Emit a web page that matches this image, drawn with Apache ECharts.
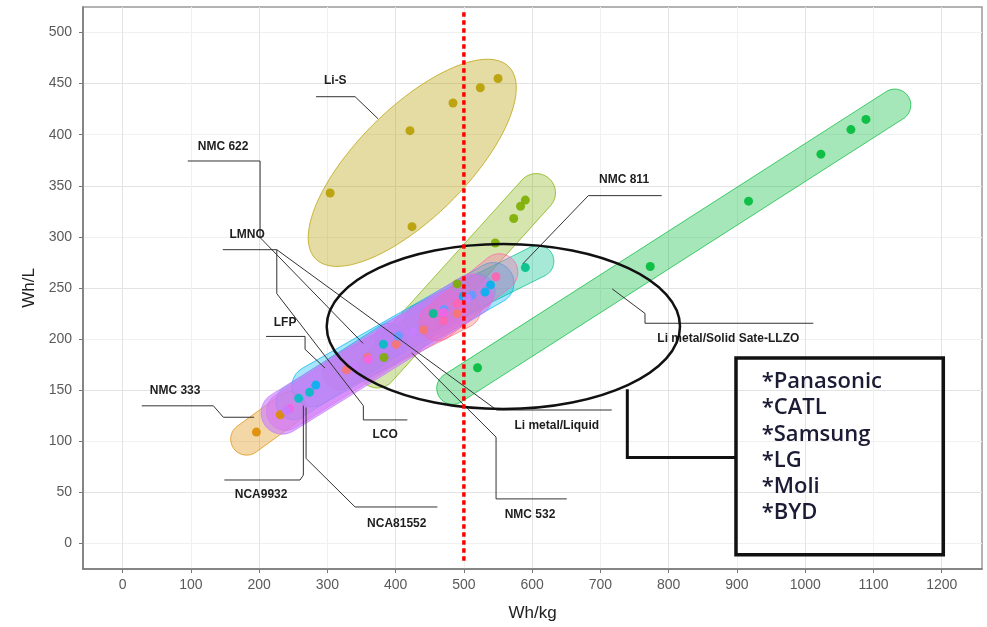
<!DOCTYPE html>
<html>
<head>
<meta charset="utf-8">
<script src="https://cdn.jsdelivr.net/npm/echarts@6/dist/echarts.min.js"></script>
<style>
  html, body { margin: 0; background: #fff; }
  #chart { width: 987px; height: 627px; }
</style>
</head>
<body>
<div id="chart"></div>
<script>
// tick labels
const xTickLabels = [0, 100, 200, 300, 400, 500, 600, 700, 800, 900, 1000, 1100, 1200]
const yTickLabels = [0, 50, 100, 150, 200, 250, 300, 350, 400, 450, 500]

// [Wh/kg, Wh/L] per chemistry
const liS = [[304, 343], [421, 404], [424, 310], [484, 431], [524, 446], [550, 455]]
const liMetalLiquid = [[383, 182], [490, 254], [546, 294], [573, 318], [583, 330], [590, 336]]
const liMetalLLZO = [[520, 172], [773, 271], [917, 335], [1023, 381], [1067, 405], [1089, 415]]
const nmc811 = [[455, 225], [590, 270]]
const nmc333 = [[196, 109], [231, 126]]
const lco = [[328, 170], [359, 182], [401, 195], [441, 209], [490, 225]]
const nca9932 = [[258, 142], [274, 148], [382, 195]]
const lfp = [[283, 155], [499, 242], [531, 246], [539, 253]]
const lmno = [[404, 203], [471, 229], [512, 243]]
const nca81552 = [[245, 132], [360, 180], [470, 226]]
const nmc532 = [[240, 130], [340, 172], [425, 207], [505, 240]]
const nmc622 = [[470, 218], [490, 235], [547, 261]]

const companies = ['*Panasonic', '*CATL', '*Samsung', '*LG', '*Moli', '*BYD']
const targetWhKg = 500

// drawing order = ggplot layer order
const groups = [
  { data: liS, color: '#B79F00', shape: 'ellipse', padL: 16, padW: 6, aspect: 2.47, alpha: 0.36 },
  { data: liMetalLLZO, color: '#00BA38', padL: 48, padW: 12, alpha: 0.35 },
  { data: liMetalLiquid, color: '#7CAE00', padL: 32, padW: 16, alpha: 0.32 },
  { data: nmc811, color: '#00C08B', padL: 30, padW: 16, alpha: 0.35 },
  { data: nmc333, color: '#DE8C00', padL: 28, padW: 16, alpha: 0.35 },
  { data: lco, color: '#F8766D', padL: 24, padW: 17, alpha: 0.35 },
  { data: nca9932, color: '#00BFC4', padL: 24, padW: 17, alpha: 0.35 },
  { data: lfp, color: '#00B4F0', padL: 24, padW: 17, alpha: 0.35 },
  { data: lmno, color: '#619CFF', padL: 24, padW: 17, alpha: 0.35 },
  { data: nca81552, color: '#F564E3', padL: 24, padW: 19, alpha: 0.5 },
  { data: nmc532, color: '#C77CFF', padL: 26, padW: 21, alpha: 0.62 },
  { data: nmc622, color: '#FF64B0', padL: 24, padW: 16, alpha: 0.35 }
]

// label text, centre, leader line (all in Wh/kg, Wh/L)
const notes = [
  { text: 'Li-S', at: [311.6, 452.4], path: [[283.4, 437.2], [340.6, 437.2], [374.3, 415.6]] },
  { text: 'NMC 622', at: [147.2, 388.5], path: [[95.5, 374.3], [201.4, 374.3], [201.4, 299.4], [352.3, 195.8]] },
  { text: 'LMNO', at: [182.4, 302.3], path: [[146.8, 287.5], [225.9, 287.5]] },
  { text: 'Li metal/Liquid', at: [636, 115.4], path: [[716.6, 130.6], [548.1, 130.6], [225.9, 287.5]] },
  { text: 'LCO', at: [384.5, 106.4], path: [[417.2, 120.9], [352.7, 120.9], [352.7, 134.8], [225.9, 244.5], [225.9, 287.5]] },
  { text: 'LFP', at: [238, 216.1], path: [[210.2, 202.6], [267.3, 202.6], [267.3, 190], [296.6, 171.6]] },
  { text: 'NMC 333', at: [76.9, 149.3], path: [[28.1, 134.7], [133, 134.7], [147.6, 123.5], [192.6, 123.5]] },
  { text: 'NCA9932', at: [202.9, 47.6], path: [[149.1, 62.1], [260, 62.1], [264.8, 66.9], [264.8, 134.8]] },
  { text: 'NCA81552', at: [401.6, 19.3], path: [[461.1, 35.7], [340.6, 35.7], [268.8, 83.2], [268.8, 133.1]] },
  { text: 'NMC 532', at: [596.9, 28.3], path: [[650.7, 43.6], [547.1, 43.6], [547.1, 104.1], [423.6, 186.4]] },
  { text: 'Li metal/Solid Sate-LLZO', at: [887.4, 200], path: [[1011.9, 215.5], [765.3, 215.5], [765.3, 225.1], [717.3, 249.1]] },
  { text: 'NMC 811', at: [734.6, 355.9], path: [[789.8, 340.4], [682.3, 340.4], [586.2, 273.6]] }
]

function rgba (hex, a) {
  const n = parseInt(hex.slice(1), 16)
  return 'rgba(' + (n >> 16) + ',' + ((n >> 8) & 255) + ',' + (n & 255) + ',' + a + ')'
}

// smallest circle holding all points (few points, brute force)
function enclosingCircle (P) {
  let best = null
  const holds = c => P.every(p => Math.hypot(p[0] - c[0], p[1] - c[1]) <= c[2] + 1e-6)
  const tryC = c => { if (holds(c) && (!best || c[2] < best[2])) best = c }
  for (let i = 0; i < P.length; i++) {
    for (let j = i + 1; j < P.length; j++) {
      const a = P[i], b = P[j]
      tryC([(a[0] + b[0]) / 2, (a[1] + b[1]) / 2, Math.hypot(a[0] - b[0], a[1] - b[1]) / 2])
      for (let k = j + 1; k < P.length; k++) {
        const c = P[k]
        const d = 2 * (a[0] * (b[1] - c[1]) + b[0] * (c[1] - a[1]) + c[0] * (a[1] - b[1]))
        if (Math.abs(d) < 1e-9) continue
        const a2 = a[0] * a[0] + a[1] * a[1], b2 = b[0] * b[0] + b[1] * b[1], c2 = c[0] * c[0] + c[1] * c[1]
        const ux = (a2 * (b[1] - c[1]) + b2 * (c[1] - a[1]) + c2 * (a[1] - b[1])) / d
        const uy = (a2 * (c[0] - b[0]) + b2 * (a[0] - c[0]) + c2 * (b[0] - a[0])) / d
        tryC([ux, uy, Math.hypot(a[0] - ux, a[1] - uy)])
      }
    }
  }
  return best
}

function markShape (g) {
  return function (params, api) {
    if (params.dataIndex !== 0) return
    const pts = g.data.map(p => api.coord(p))
    const mx = pts.reduce((s, p) => s + p[0], 0) / pts.length
    const my = pts.reduce((s, p) => s + p[1], 0) / pts.length
    let sxx = 0, syy = 0, sxy = 0
    pts.forEach(p => { sxx += (p[0] - mx) ** 2; syy += (p[1] - my) ** 2; sxy += (p[0] - mx) * (p[1] - my) })
    const th = 0.5 * Math.atan2(2 * sxy, sxx - syy)
    const u = [Math.cos(th), Math.sin(th)]
    const n = [-u[1], u[0]]
    const ts = pts.map(p => (p[0] - mx) * u[0] + (p[1] - my) * u[1])
    const ss = pts.map(p => (p[0] - mx) * n[0] + (p[1] - my) * n[1])
    const poly = []
    if (g.shape === 'ellipse') {
      const k = g.aspect
      const c = enclosingCircle(ts.map((t, i) => [t, ss[i] * k]))
      const cx = mx + u[0] * c[0] + n[0] * c[1] / k
      const cy = my + u[1] * c[0] + n[1] * c[1] / k
      const A = c[2] + g.padL, B = c[2] / k + g.padW
      for (let i = 0; i < 90; i++) {
        const a = i / 90 * Math.PI * 2
        poly.push([cx + u[0] * A * Math.cos(a) + n[0] * B * Math.sin(a), cy + u[1] * A * Math.cos(a) + n[1] * B * Math.sin(a)])
      }
    } else {
      const tmin = Math.min(...ts), tmax = Math.max(...ts)
      const smin = Math.min(...ss), smax = Math.max(...ss)
      const ct = (tmin + tmax) / 2, cs = (smin + smax) / 2
      const cx = mx + u[0] * ct + n[0] * cs, cy = my + u[1] * ct + n[1] * cs
      const W = (smax - smin) / 2 + g.padW
      const half = Math.max((tmax - tmin) / 2 + g.padL - W, 0)
      const ends = [[cx + u[0] * half, cy + u[1] * half], [cx - u[0] * half, cy - u[1] * half]]
      ends.forEach((e, side) => {
        for (let i = 0; i <= 24; i++) {
          const a = -Math.PI / 2 + i / 24 * Math.PI + side * Math.PI
          poly.push([e[0] + (u[0] * Math.cos(a) + n[0] * Math.sin(a)) * W, e[1] + (u[1] * Math.cos(a) + n[1] * Math.sin(a)) * W])
        }
      })
    }
    return {
      type: 'polygon',
      shape: { points: poly },
      style: { fill: rgba(g.color, g.alpha), stroke: rgba(g.color, 0.9), lineWidth: 0.8 }
    }
  }
}

function drawNotes (params, api) {
  if (params.dataIndex !== 0) return
  const kids = []
  notes.forEach(nt => {
    kids.push({ type: 'polyline', shape: { points: nt.path.map(p => api.coord(p)) }, style: { stroke: '#333', lineWidth: 1, fill: 'none' } })
    const c = api.coord(nt.at)
    kids.push({ type: 'text', x: c[0], y: c[1], style: { text: nt.text, fill: '#1e1e1e', font: 'bold 12px "Liberation Sans", Arial, sans-serif', align: 'center', verticalAlign: 'middle' } })
  })
  // highlight ring around the 500 Wh/kg region
  const ec = api.coord([557.8, 212.3])
  const r = api.size([258.8, 80.7])
  kids.push({ type: 'ellipse', shape: { cx: ec[0], cy: ec[1], rx: r[0], ry: r[1] }, style: { fill: 'none', stroke: '#111', lineWidth: 2.5 } })
  kids.push({ type: 'polyline', shape: { points: [[739.4, 151], [739.4, 84.1], [899.7, 84.1]].map(p => api.coord(p)) }, style: { stroke: '#111', lineWidth: 3, fill: 'none' } })
  const b1 = api.coord([898.6, 181.6]), b2 = api.coord([1202.3, -11.1])
  kids.push({ type: 'rect', shape: { x: b1[0], y: b1[1], width: b2[0] - b1[0], height: b2[1] - b1[1] }, style: { fill: 'none', stroke: '#111', lineWidth: 3.5 } })
  companies.forEach((name, i) => {
    const p = api.coord([936.3, 158 - i * 25.6])
    kids.push({ type: 'text', x: p[0], y: p[1], style: { text: name, fill: '#1b1b35', font: '600 22px "Open Sans", "Noto Sans", sans-serif', align: 'left', verticalAlign: 'middle' } })
  })
  return { type: 'group', children: kids }
}

const series = []
groups.forEach(g => {
  series.push({ type: 'custom', renderItem: markShape(g), data: [g.data[0]], silent: true, clip: false, z: 1 })
})
groups.forEach(g => {
  series.push({ type: 'scatter', data: g.data, symbolSize: 9, itemStyle: { color: g.color, opacity: 0.9 }, silent: true, z: 3 })
})
series.push({
  type: 'line',
  data: [[targetWhKg, -17], [targetWhKg, 521]],
  symbol: 'none',
  lineStyle: { color: '#ff0000', width: 3.5, type: [4.5, 3.5] },
  silent: true,
  z: 6
})
series.push({ type: 'custom', renderItem: drawNotes, data: [[0, 0]], silent: true, clip: false, z: 5 })

const labelFont = { fontFamily: '"Liberation Sans", Arial, sans-serif', fontSize: 14, color: '#5a5a5a' }

const myChart = echarts.init(document.getElementById('chart'))
myChart.setOption({
  animation: false,
  backgroundColor: '#fff',
  grid: { left: 83, right: 5, top: 7, bottom: 52, show: true, borderColor: '#9a9a9a', borderWidth: 1.5 },
  xAxis: {
    type: 'value',
    min: -58,
    max: 1259,
    splitNumber: 26,
    name: 'Wh/kg',
    nameLocation: 'middle',
    nameGap: 36,
    nameTextStyle: { fontFamily: '"Liberation Sans", Arial, sans-serif', fontSize: 17, color: '#222' },
    axisLine: { show: true, onZero: false, lineStyle: { color: '#777', width: 1.5 } },
    axisTick: { show: true, length: 4, customValues: xTickLabels, lineStyle: { color: '#777' } },
    axisLabel: Object.assign({ margin: 9, customValues: xTickLabels, formatter: v => (xTickLabels.indexOf(v) >= 0 ? String(v) : '') }, labelFont),
    splitLine: { show: true, lineStyle: { color: ['#e3e3e3', '#f0f0f0'], width: 1 } }
  },
  yAxis: {
    type: 'value',
    min: -25,
    max: 525,
    interval: 25,
    name: 'Wh/L',
    nameLocation: 'middle',
    nameGap: 40,
    nameTextStyle: { fontFamily: '"Liberation Sans", Arial, sans-serif', fontSize: 17, color: '#222' },
    axisLine: { show: true, onZero: false, lineStyle: { color: '#777', width: 1.5 } },
    axisTick: { show: true, length: 4, customValues: yTickLabels, lineStyle: { color: '#777' } },
    axisLabel: Object.assign({ margin: 11, customValues: yTickLabels, formatter: v => (yTickLabels.indexOf(v) >= 0 ? String(v) : '') }, labelFont),
    splitLine: { show: true, lineStyle: { color: ['#f0f0f0', '#e3e3e3'], width: 1 } }
  },
  series: series
})
</script>
</body>
</html>
